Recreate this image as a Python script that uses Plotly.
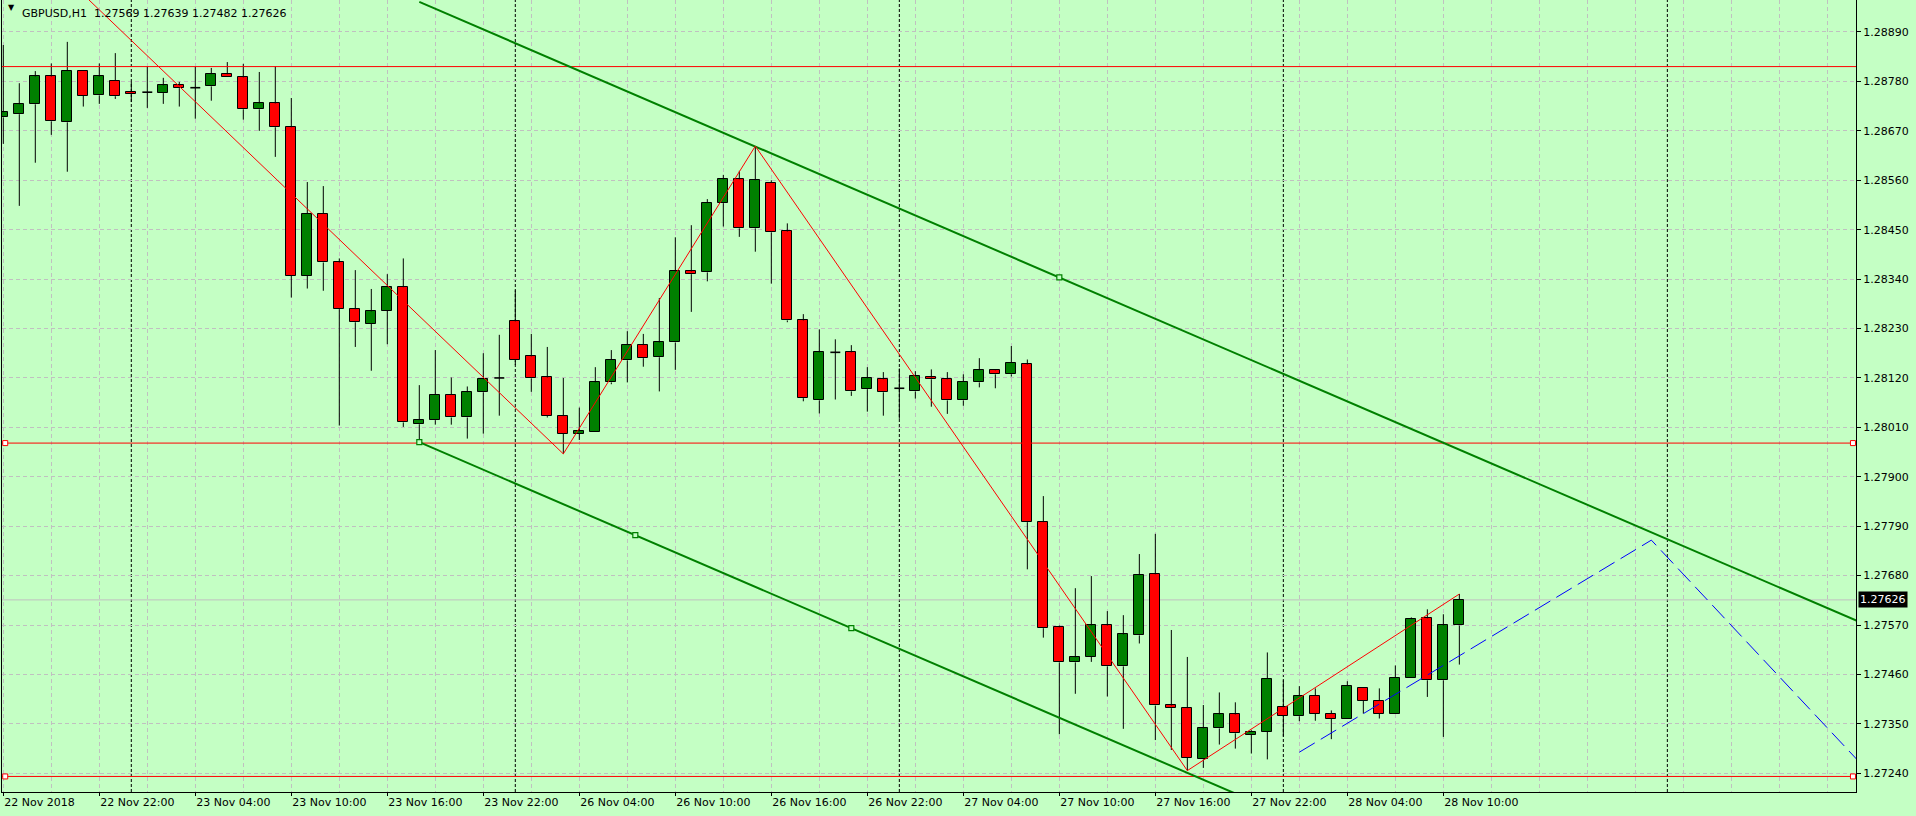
import plotly.graph_objects as go

# ---------------- data ----------------
symbol = "GBPUSD,H1"
open_ = [1.28700, 1.28707, 1.28729, 1.28791, 1.28689, 1.28803, 1.28749, 1.28782, 1.28756, 1.28756,
         1.28754, 1.28771, 1.28766, 1.28769, 1.28796, 1.28789, 1.28718, 1.28731, 1.28678, 1.28348,
         1.28486, 1.28377, 1.28273, 1.28241, 1.28270, 1.28322, 1.28017, 1.28026, 1.28083, 1.28032,
         1.28088, 1.28120, 1.28246, 1.28168, 1.28121, 1.28035, 1.27996, 1.28000, 1.28110, 1.28159,
         1.28193, 1.28166, 1.28199, 1.28357, 1.28355, 1.28509, 1.28562, 1.28453, 1.28555, 1.28446,
         1.28248, 1.28070, 1.28177, 1.28177, 1.28095, 1.28117, 1.28097, 1.28090, 1.28121, 1.28117,
         1.28070, 1.28110, 1.28137, 1.28128, 1.28150, 1.27799, 1.27565, 1.27487, 1.27500, 1.27569,
         1.27478, 1.27547, 1.27683, 1.27391, 1.27385, 1.27271, 1.27340, 1.27371, 1.27326, 1.27333,
         1.27387, 1.27367, 1.27413, 1.27373, 1.27360, 1.27431, 1.27402, 1.27373, 1.27453, 1.27585,
         1.27447, 1.27569]
high = [1.28861, 1.28776, 1.28803, 1.28820, 1.28868, 1.28803, 1.28820, 1.28843, 1.28781, 1.28813,
        1.28788, 1.28779, 1.28813, 1.28810, 1.28823, 1.28819, 1.28801, 1.28814, 1.28743, 1.28556,
        1.28547, 1.28386, 1.28360, 1.28318, 1.28351, 1.28386, 1.28104, 1.28182, 1.28121, 1.28101,
        1.28175, 1.28216, 1.28315, 1.28218, 1.28189, 1.28120, 1.28054, 1.28144, 1.28182, 1.28224,
        1.28218, 1.28298, 1.28433, 1.28460, 1.28518, 1.28572, 1.28581, 1.28635, 1.28560, 1.28464,
        1.28262, 1.28228, 1.28206, 1.28193, 1.28144, 1.28133, 1.28141, 1.28135, 1.28139, 1.28133,
        1.28128, 1.28164, 1.28139, 1.28191, 1.28161, 1.27857, 1.27569, 1.27652, 1.27679, 1.27601,
        1.27592, 1.27728, 1.27773, 1.27559, 1.27499, 1.27392, 1.27420, 1.27398, 1.27336, 1.27509,
        1.27447, 1.27434, 1.27429, 1.27380, 1.27445, 1.27431, 1.27429, 1.27480, 1.27587, 1.27605,
        1.27594, 1.27639]
low = [1.28641, 1.28503, 1.28599, 1.28661, 1.28579, 1.28724, 1.28730, 1.28741, 1.28734, 1.28721,
       1.28730, 1.28724, 1.28697, 1.28737, 1.28789, 1.28695, 1.28670, 1.28612, 1.28299, 1.28319,
       1.28314, 1.28014, 1.28189, 1.28136, 1.28195, 1.28011, 1.27977, 1.28016, 1.28016, 1.27985,
       1.27996, 1.28036, 1.28149, 1.28089, 1.28032, 1.27951, 1.27982, 1.28000, 1.28106, 1.28110,
       1.28145, 1.28090, 1.28138, 1.28267, 1.28335, 1.28457, 1.28434, 1.28401, 1.28330, 1.28244,
       1.28068, 1.28041, 1.28072, 1.28080, 1.28045, 1.28036, 1.28029, 1.28074, 1.28056, 1.28040,
       1.28058, 1.28099, 1.28097, 1.28123, 1.27694, 1.27542, 1.27327, 1.27417, 1.27488, 1.27411,
       1.27339, 1.27529, 1.27314, 1.27292, 1.27246, 1.27252, 1.27304, 1.27295, 1.27284, 1.27271,
       1.27322, 1.27356, 1.27357, 1.27316, 1.27360, 1.27373, 1.27362, 1.27373, 1.27453, 1.27410,
       1.27321, 1.27482]
close = [1.28711, 1.28729, 1.28791, 1.28691, 1.28803, 1.28748, 1.28791, 1.28747, 1.28751, 1.28756,
         1.28771, 1.28765, 1.28766, 1.28796, 1.28789, 1.28718, 1.28731, 1.28678, 1.28348, 1.28486,
         1.28377, 1.28273, 1.28244, 1.28268, 1.28322, 1.28021, 1.28026, 1.28083, 1.28032, 1.28088,
         1.28117, 1.28120, 1.28159, 1.28119, 1.28035, 1.27996, 1.28001, 1.28110, 1.28161, 1.28193,
         1.28164, 1.28199, 1.28357, 1.28351, 1.28509, 1.28562, 1.28453, 1.28560, 1.28444, 1.28248,
         1.28075, 1.28177, 1.28177, 1.28090, 1.28119, 1.28088, 1.28097, 1.28124, 1.28117, 1.28070,
         1.28112, 1.28137, 1.28128, 1.28153, 1.27799, 1.27563, 1.27487, 1.27498, 1.27569, 1.27478,
         1.27549, 1.27681, 1.27391, 1.27385, 1.27275, 1.27340, 1.27371, 1.27329, 1.27333, 1.27451,
         1.27367, 1.27412, 1.27373, 1.27362, 1.27434, 1.27402, 1.27373, 1.27453, 1.27583, 1.27447,
         1.27569, 1.27626]

tick_idx = [0, 6, 12, 18, 24, 30, 36, 42, 48, 54, 60, 66, 72, 78, 84, 90]
tick_text = ["22 Nov 2018", "22 Nov 22:00", "23 Nov 04:00", "23 Nov 10:00", "23 Nov 16:00",
             "23 Nov 22:00", "26 Nov 04:00", "26 Nov 10:00", "26 Nov 16:00", "26 Nov 22:00",
             "27 Nov 04:00", "27 Nov 10:00", "27 Nov 16:00", "27 Nov 22:00", "28 Nov 04:00",
             "28 Nov 10:00"]
price_ticks = [1.27240, 1.27350, 1.27460, 1.27570, 1.27680, 1.27790, 1.27900, 1.28010,
               1.28120, 1.28230, 1.28340, 1.28450, 1.28560, 1.28670, 1.28780, 1.28890]
grid_minor_idx = list(range(0, 117, 3))
day_sep_idx = [8, 32, 56, 80, 104]

hline_prices = [1.28813, 1.27975, 1.27233]
hline_selected = [False, True, True]
hline_anchor_idx = [0.12, 115.6]

zigzag_idx = [-2, 35, 47, 74, 91]
zigzag_price = [1.29212, 1.27951, 1.28636, 1.27246, 1.27639]

channel_idx = [26, 53]
channel_low = [1.27977, 1.27563]
channel_width = 0.00980
channel_mid_idx = 39.5
channel_upper_marker_idx = 66

forecast_idx = [81, 103, 116]
forecast_price = [1.27287, 1.27759, 1.27265]

x_range = [-0.081, 115.79]
y_range = [1.271984, 1.289612]

# ---------------- styles ----------------
BG = "#C4FFC4"
GRID = "#C0C0C0"
BULL = "#008000"
BEAR = "#FF0000"
FONT = "DejaVu Sans"

n = len(open_)
idx = list(range(n))

fig = go.Figure()

# wicks (split around the body so they do not show through it)
wx, wy = [], []
dx, dy = [], []
for i, (o, h, l, c) in enumerate(zip(open_, high, low, close)):
    top, bot = max(o, c), min(o, c)
    if abs(c - o) < 1e-6:
        wx += [i, i, None]
        wy += [h, l, None]
        dx += [i - 0.31, i + 0.31, None]
        dy += [o, o, None]
        continue
    if h > top:
        wx += [i, i, None]
        wy += [h, top, None]
    if l < bot:
        wx += [i, i, None]
        wy += [bot, l, None]

fig.add_trace(go.Scatter(x=wx, y=wy, mode="lines", line=dict(color="black", width=1),
                         hoverinfo="skip", showlegend=False))
fig.add_trace(go.Scatter(x=dx, y=dy, mode="lines", line=dict(color="black", width=1.6),
                         hoverinfo="skip", showlegend=False))

bx, by, bb, bc = [], [], [], []
for i, (o, c) in enumerate(zip(open_, close)):
    if abs(c - o) < 1e-6:
        continue
    bx.append(i)
    by.append(abs(c - o))
    bb.append(min(o, c))
    bc.append(BULL if c > o else BEAR)
fig.add_trace(go.Bar(x=bx, y=by, base=bb, width=0.62,
                     marker=dict(color=bc, line=dict(color="black", width=1)),
                     hoverinfo="skip", showlegend=False))

# horizontal red lines
for p, sel in zip(hline_prices, hline_selected):
    fig.add_trace(go.Scatter(x=[x_range[0] - 1, x_range[1] + 1], y=[p, p], mode="lines",
                             line=dict(color="#FF0000", width=1), hoverinfo="skip", showlegend=False))
    if sel:
        fig.add_trace(go.Scatter(x=hline_anchor_idx, y=[p, p], mode="markers",
                                 marker=dict(symbol="square", size=5, color="white",
                                             line=dict(color="#FF0000", width=1)),
                                 hoverinfo="skip", showlegend=False))

# equidistant channel
slope = (channel_low[1] - channel_low[0]) / (channel_idx[1] - channel_idx[0])
ray_end = x_range[1] + 2
low_line_y = [channel_low[0], channel_low[0] + slope * (ray_end - channel_idx[0])]
up_line_y = [v + channel_width for v in low_line_y]
for ys in (low_line_y, up_line_y):
    fig.add_trace(go.Scatter(x=[channel_idx[0], ray_end], y=ys, mode="lines",
                             line=dict(color=BULL, width=2), hoverinfo="skip", showlegend=False))
mk_x = [channel_idx[0], channel_mid_idx, channel_idx[1], channel_upper_marker_idx]
mk_y = [channel_low[0] + slope * (x - channel_idx[0]) for x in mk_x[:3]]
mk_y.append(channel_low[0] + channel_width + slope * (channel_upper_marker_idx - channel_idx[0]))
fig.add_trace(go.Scatter(x=mk_x, y=mk_y, mode="markers",
                         marker=dict(symbol="square", size=5, color=BG,
                                     line=dict(color=BULL, width=1.2)),
                         hoverinfo="skip", showlegend=False))

# zigzag
fig.add_trace(go.Scatter(x=zigzag_idx, y=zigzag_price, mode="lines",
                         line=dict(color="#FF0000", width=1), hoverinfo="skip", showlegend=False))

# forecast (blue dashed)
fig.add_trace(go.Scatter(x=forecast_idx, y=forecast_price, mode="lines",
                         line=dict(color="#0000FF", width=1, dash="18px,7px"),
                         hoverinfo="skip", showlegend=False))

shapes = []
for d in day_sep_idx:
    shapes.append(dict(type="line", xref="x", yref="paper", x0=d, x1=d, y0=0, y1=1,
                       line=dict(color="black", width=1, dash="3px,2px"), layer="between"))
shapes.append(dict(type="line", xref="paper", yref="y", x0=0, x1=1, y0=close[-1], y1=close[-1],
                   line=dict(color=GRID, width=1), layer="between"))

annotations = [
    dict(xref="paper", yref="paper", x=0, y=1, xshift=4, yshift=-7, xanchor="left", yanchor="middle",
         text="\u25BC", showarrow=False, font=dict(family=FONT, size=8, color="black")),
    dict(xref="paper", yref="paper", x=0, y=1, xshift=18, yshift=-13, xanchor="left", yanchor="middle",
         text=f"{symbol}\u00a0\u00a0{open_[-1]:.5f} {high[-1]:.5f} {low[-1]:.5f} {close[-1]:.5f}",
         showarrow=False, font=dict(family=FONT, size=11, color="black")),
    dict(xref="paper", yref="y", x=1, y=close[-1], xshift=2, xanchor="left", yanchor="middle",
         text=f"{close[-1]:.5f}", showarrow=False, bgcolor="black", borderpad=1,
         font=dict(family=FONT, size=11, color="white")),
]

fig.update_layout(
    width=1916, height=816,
    margin=dict(l=2, r=60, t=0, b=24, pad=0),
    paper_bgcolor=BG, plot_bgcolor=BG,
    font=dict(family=FONT, size=11, color="black"),
    showlegend=False, bargap=0,
    shapes=shapes, annotations=annotations,
    xaxis=dict(range=x_range, tickmode="array", tickvals=tick_idx, ticktext=tick_text,
               ticks="outside", ticklen=3, tickcolor="black", ticklabelposition="outside right",
               showgrid=True, gridcolor=GRID, griddash="4px,3px", gridwidth=1,
               minor=dict(tickmode="array", tickvals=grid_minor_idx, showgrid=True,
                          gridcolor=GRID, griddash="4px,3px", ticklen=0),
               showline=True, linecolor="black", linewidth=1, zeroline=False, fixedrange=True),
    yaxis=dict(range=y_range, side="right", tickmode="array", tickvals=price_ticks,
               ticktext=[f"{v:.5f}" for v in price_ticks], ticks="outside", ticklen=4,
               tickcolor="black", showgrid=True, gridcolor=GRID, griddash="4px,3px", gridwidth=1,
               showline=True, mirror=True, linecolor="black", linewidth=1, zeroline=False,
               fixedrange=True),
)

fig.write_html("out.html", config={"displayModeBar": False},
               post_script="document.body.style.margin='0';document.body.style.overflow='hidden';")
